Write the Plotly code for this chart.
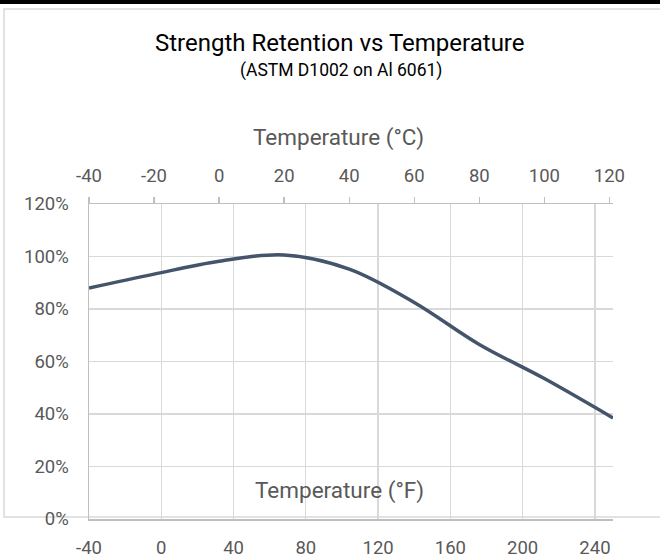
import plotly.graph_objects as go

# ---- data ----
temp_f = [-40, -4, 32, 68, 104, 140, 176, 212, 250]
retention = [88.0, 93.3, 98.2, 100.6, 95.2, 82.5, 66.5, 53.5, 38.5]

f_ticks = [-40, 0, 40, 80, 120, 160, 200, 240]
c_ticks = [-40, -20, 0, 20, 40, 60, 80, 100, 120]
y_ticks = [0, 20, 40, 60, 80, 100, 120]
y_labels = ["0%", "20%", "40%", "60%", "80%", "100%", "120%"]

title = "Strength Retention vs Temperature"
subtitle = "(ASTM D1002 on Al 6061)"
x_top_title = "Temperature (°C)"
x_bot_title = "Temperature (°F)"

F_MIN, F_MAX = -40, 250
C_MIN, C_MAX = (F_MIN - 32) / 1.8, (F_MAX - 32) / 1.8

FONT = "Roboto"
GRAY = "#595959"
GRID = "#d9d9d9"
AXIS = "#bfbfbf"
TICK_SIZE = 18.5

fig = go.Figure()
fig.add_trace(go.Scatter(
    x=temp_f, y=retention, mode="lines",
    line=dict(color="#44546a", width=3.5, shape="spline", smoothing=1.0),
    hoverinfo="skip", showlegend=False,
))
# invisible trace to activate the top (°C) axis
fig.add_trace(go.Scatter(
    x=[C_MIN, C_MAX], y=[None, None], xaxis="x2", mode="lines",
    showlegend=False, hoverinfo="skip",
))

L, R, T, B = 89, 47, 204, 39
W, H = 660, 558
pw, ph = W - L - R, H - T - B


def px(xp):
    return (xp - L) / pw


def py(yp):
    return (H - B - yp) / ph


fig.update_layout(
    width=W, height=H,
    margin=dict(l=L, r=R, t=T, b=B, pad=0, autoexpand=False),
    paper_bgcolor="white", plot_bgcolor="white",
    font=dict(family=FONT, color=GRAY),
    xaxis=dict(
        range=[F_MIN, F_MAX], tickvals=f_ticks, ticktext=[str(v) for v in f_ticks],
        showgrid=True, gridcolor=GRID, gridwidth=1.3,
        showline=True, linecolor=AXIS, linewidth=1.5, ticks="",
        tickfont=dict(size=TICK_SIZE, color=GRAY, family=FONT), zeroline=False,
        ticklabelstandoff=11, automargin=False, fixedrange=True,
    ),
    xaxis2=dict(
        range=[C_MIN, C_MAX], tickvals=c_ticks, ticktext=[str(v) for v in c_ticks],
        overlaying="x", side="top",
        showgrid=False, showline=True, linecolor=AXIS, linewidth=1.5,
        ticks="outside", ticklen=6, tickcolor=AXIS, tickwidth=1.3,
        tickfont=dict(size=TICK_SIZE, color=GRAY, family=FONT), zeroline=False,
        ticklabelstandoff=7, automargin=False, fixedrange=True,
    ),
    yaxis=dict(
        range=[0, 120], tickvals=y_ticks, ticktext=y_labels, showgrid=True,
        gridcolor=GRID, gridwidth=1.3, showline=True, linecolor=AXIS,
        linewidth=1.5, ticks="", zeroline=False,
        tickfont=dict(size=TICK_SIZE, color=GRAY, family=FONT),
        ticklabelstandoff=15, automargin=False, fixedrange=True,
    ),
    shapes=[
        dict(type="rect", xref="paper", yref="paper",
             x0=px(4), x1=px(700), y0=py(517), y1=py(9),
             line=dict(color=GRID, width=1.5), fillcolor="rgba(0,0,0,0)",
             layer="below"),
        dict(type="rect", xref="paper", yref="paper",
             x0=px(-5), x1=px(700), y0=py(4), y1=py(-5),
             line=dict(width=0), fillcolor="black"),
    ],
    annotations=[
        dict(text=title, xref="paper", yref="paper", x=px(340), y=py(42.5),
             xanchor="center", yanchor="middle", showarrow=False,
             font=dict(size=24, color="#000000", family=FONT)),
        dict(text=subtitle, xref="paper", yref="paper", x=px(341), y=py(71),
             xanchor="center", yanchor="middle", showarrow=False,
             font=dict(size=17.5, color="#000000", family=FONT)),
        dict(text=x_top_title, xref="paper", yref="paper", x=px(338), y=py(137),
             xanchor="center", yanchor="middle", showarrow=False,
             font=dict(size=22.5, color=GRAY, family=FONT)),
        dict(text=x_bot_title, xref="paper", yref="paper", x=px(339), y=py(490),
             xanchor="center", yanchor="middle", showarrow=False,
             font=dict(size=22.5, color=GRAY, family=FONT)),
    ],
)

fig.write_html(
    "out.html",
    config={"displayModeBar": False, "staticPlot": True},
    post_script="document.body.style.margin='0px';document.body.style.overflow='hidden';",
)
